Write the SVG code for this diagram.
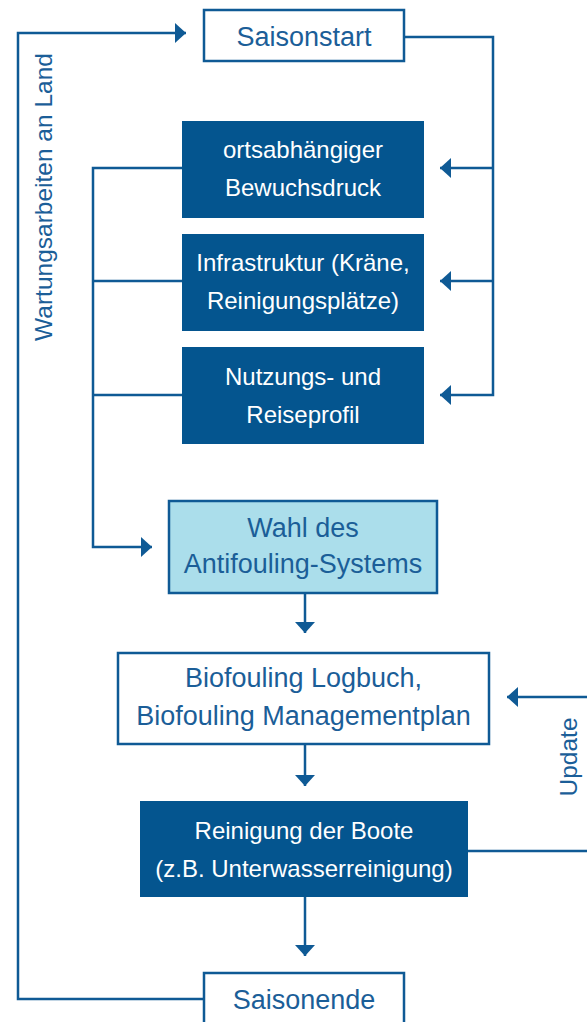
<svg xmlns="http://www.w3.org/2000/svg" width="587" height="1022" viewBox="0 0 587 1022">
<style>
.ln{fill:none;stroke:#0f5a95;stroke-width:2.5}
.wbox{fill:#ffffff;stroke:#0f5a95;stroke-width:2.5}
.dbox{fill:#04558f}
.lbox{fill:#abdeeb;stroke:#0f5a95;stroke-width:2.5}
text{font-family:"Liberation Sans",Arial,sans-serif;text-anchor:middle}
.tw{fill:#ffffff;font-size:24px}
.tb{fill:#1b5e98;font-size:27px}
.tr{fill:#1b5e98;font-size:24.5px}
</style>
<defs>
<marker id="ah" markerUnits="userSpaceOnUse" markerWidth="11" markerHeight="20" viewBox="0 0 11 20" refX="11" refY="10" orient="auto">
<path d="M0,0 L11,10 L0,20 z" fill="#0f5a95"/>
</marker>
</defs>
<g id="connectors">
<path class="ln" d="M204,999 H18 V33 H186" marker-end="url(#ah)"/>
<path class="ln" d="M404,37 H493 V395 H440" marker-end="url(#ah)"/>
<path class="ln" d="M493,168 H440" marker-end="url(#ah)"/>
<path class="ln" d="M493,281 H440" marker-end="url(#ah)"/>
<path class="ln" d="M182,168 H93 V547 H152" marker-end="url(#ah)"/>
<path class="ln" d="M182,281 H93"/>
<path class="ln" d="M182,395 H93"/>
<path class="ln" d="M305,593 V633" marker-end="url(#ah)"/>
<path class="ln" d="M305,744 V786" marker-end="url(#ah)"/>
<path class="ln" d="M305,897 V956" marker-end="url(#ah)"/>
<path class="ln" d="M590,697 H507" marker-end="url(#ah)"/>
<path class="ln" d="M467,851 H590"/>
<text class="tr" transform="translate(52,197) rotate(-90)">Wartungsarbeiten an Land</text>
<text class="tr" transform="translate(577,757) rotate(-90)">Update</text>
</g>
<g id="saisonstart">
<rect class="wbox" x="204" y="10" width="200" height="51"/>
<text class="tb" x="304" y="46">Saisonstart</text>
</g>
<g id="bewuchsdruck">
<rect class="dbox" x="182" y="121" width="242" height="97"/>
<text class="tw" x="303" y="158">ortsabhängiger</text>
<text class="tw" x="303" y="196">Bewuchsdruck</text>
</g>
<g id="infrastruktur">
<rect class="dbox" x="182" y="234" width="242" height="97"/>
<text class="tw" x="303" y="271">Infrastruktur (Kräne,</text>
<text class="tw" x="303" y="309">Reinigungsplätze)</text>
</g>
<g id="nutzungsprofil">
<rect class="dbox" x="182" y="347" width="242" height="97"/>
<text class="tw" x="303" y="385">Nutzungs- und</text>
<text class="tw" x="303" y="423">Reiseprofil</text>
</g>
<g id="antifouling">
<rect class="lbox" x="169" y="501" width="268" height="92"/>
<text class="tb" x="303" y="537">Wahl des</text>
<text class="tb" x="303" y="573">Antifouling-Systems</text>
</g>
<g id="logbuch">
<rect class="wbox" x="118" y="653" width="371" height="91"/>
<text class="tb" x="303.5" y="687">Biofouling Logbuch,</text>
<text class="tb" x="303.5" y="725">Biofouling Managementplan</text>
</g>
<g id="reinigung">
<rect class="dbox" x="140" y="801" width="328" height="96"/>
<text class="tw" x="304" y="839">Reinigung der Boote</text>
<text class="tw" x="304" y="877">(z.B. Unterwasserreinigung)</text>
</g>
<g id="saisonende">
<rect class="wbox" x="204" y="973" width="200" height="60"/>
<text class="tb" x="304" y="1009">Saisonende</text>
</g>
</svg>
